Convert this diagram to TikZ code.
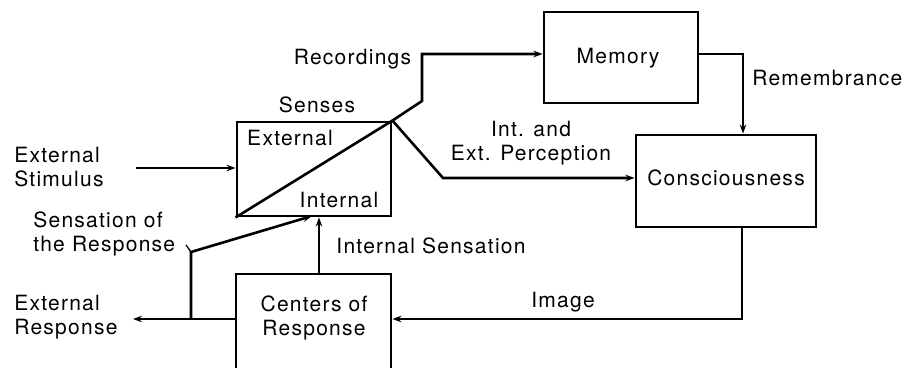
\documentclass[tikz,border=0pt]{standalone}
\usepackage{fontspec}
\setmainfont{TeX Gyre Heros}[LetterSpace=6]
\usetikzlibrary{arrows.meta}
\begin{document}
\begin{tikzpicture}[x=1pt,y=-1pt, line width=2.6pt,
  box/.style={draw, rectangle, inner sep=0pt, line width=2.9pt},
  lbl/.style={inner sep=0pt, font=\fontsize{21}{24.5}\selectfont},
  arr/.style={-{Stealth[length=9pt,width=6.5pt]}}]
\useasboundingbox (0,0) rectangle (907,367);
\clip (0,0) rectangle (907,367);
% boxes
\node[box, minimum width=154pt, minimum height=94pt] (senses) at (314,169) {};
\node[box, minimum width=154pt, minimum height=91pt] (memory) at (621,57.5) {};
\node[box, minimum width=180pt, minimum height=92pt] (consc) at (726,181) {};
\node[box, minimum width=155pt, minimum height=120pt] (centers) at (313.5,334) {};
% texts
\node[lbl] (tmem) at (618,58) {Memory};
\node[lbl] (tcon) at (726,178) {Consciousness};
\node[lbl, align=center] (tcen) at (314,318) {Centers of\\Response};
\node[lbl] (tsen) at (317,105) {Senses};
\node[lbl] (text) at (290,138) {External};
\node[lbl] (tint) at (339,200) {Internal};
\node[lbl, anchor=west, align=left] (tstim) at (13,167) {External\\Stimulus};
\node[lbl, anchor=west, align=left] (tsor) at (32,234) {Sensation of\\the Response};
\node[lbl, anchor=west, align=left] (text2) at (13,317) {External\\Response};
\node[lbl] (trec) at (352.5,59) {Recordings};
\node[lbl, anchor=west] (trem) at (751,78) {Remembrance};
\node[lbl, align=center] (tper) at (531,143) {Int. and\\Ext. Perception};
\node[lbl] (tisn) at (431,246) {Internal Sensation};
\node[lbl] (timg) at (563,302) {Image};
% coordinates
\coordinate (stim) at (136,168);
\coordinate (r1) at (422,101);
\coordinate (r2) at (422,54);
\coordinate (rm) at (743,54);
\coordinate (p1) at (443,178);
\coordinate (im) at (742,319);
\coordinate (er) at (133,319);
\coordinate (sv) at (191,319);
\coordinate (sc) at (191,252);
\coordinate (tk) at (186,245);
\coordinate (st) at (312,216);
\coordinate (isx) at (319,250);
% connectors
\draw (senses.south west) -- (senses.north east);
\draw[arr] (stim) -- (stim -| senses.west);
\draw[arr] (senses.north east) -- (r1) -- (r2) -- (r2 -| memory.west);
\draw[arr] (memory.east |- rm) -- (rm) -- (rm |- consc.north);
\draw[arr] (senses.north east) -- (p1) -- (p1 -| consc.west);
\draw[arr] (im |- consc.south) -- (im) -- (im -| centers.east);
\draw[arr] (isx |- centers.north) -- (isx |- senses.south);
\draw[arr] (er -| centers.west) -- (er);
\draw[arr] (sv) -- (sc) -- (st);
\draw[line width=1.3pt] (tk) -- (sc);
\end{tikzpicture}
\end{document}
